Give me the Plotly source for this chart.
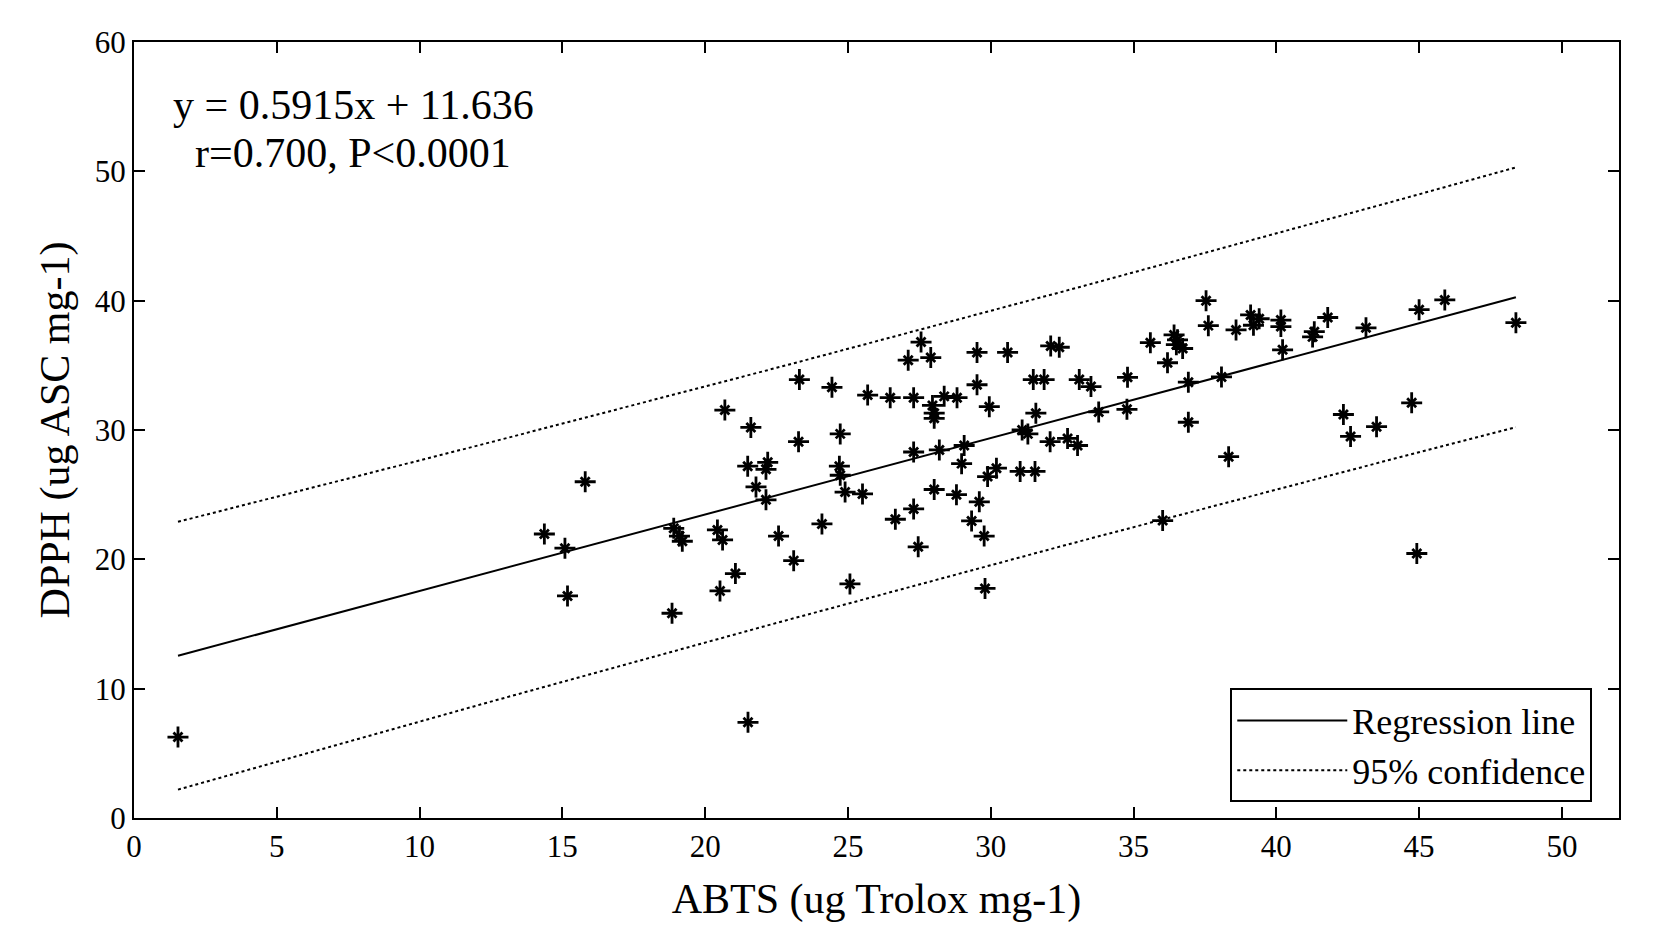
import numpy as np
import plotly.graph_objects as go

# ABTS (x) and DPPH (y) values
abts = [1.54, 14.37, 15.09, 15.18, 15.8, 18.84, 18.9, 19.1, 19.2, 20.43, 20.61, 20.52, 20.69, 21.06,
        21.5, 21.49, 21.6, 21.78, 22.13, 22.19, 22.13, 22.57, 23.1, 23.27, 23.3, 24.09, 24.44, 24.73,
        24.7, 24.73, 24.9, 25.07, 25.51, 25.69, 26.48, 26.66, 27.11, 27.3, 27.3, 27.3, 27.46, 27.56,
        27.9, 27.96, 28.02, 28.02, 28.02, 28.2, 28.37, 28.8, 28.82, 28.98, 29.07, 29.33, 29.52, 29.52,
        29.6, 29.77, 29.8, 29.89, 29.95, 30.2, 30.59, 31.03, 31.1, 31.3, 31.49, 31.55, 31.58, 31.87,
        32.08, 32.1, 32.4, 32.69, 33.04, 33.1, 33.51, 33.78, 34.77, 34.79, 35.59, 36.02, 36.19, 36.42,
        36.54, 36.5, 36.72, 36.92, 36.92, 37.54, 37.62, 38.08, 38.33, 38.59, 39.1, 39.2, 39.4, 40.16,
        40.16, 40.22, 41.27, 41.33, 41.8, 42.35, 42.6, 43.14, 43.51, 44.74, 44.92, 45.0, 45.9, 48.39]
dpph = [6.26, 21.96, 20.86, 17.17, 26.0, 15.83, 22.4, 21.8, 21.4, 22.27, 21.5, 17.56, 31.54, 18.9,
        7.4, 27.2, 30.2, 25.6, 26.96, 27.5, 24.6, 21.8, 19.9, 29.1, 33.9, 22.74, 33.3, 29.7,
        27.2, 26.5, 25.2, 18.1, 25.06, 32.7, 32.5, 23.1, 35.4, 32.5, 28.3, 23.9, 20.97, 36.8,
        35.6, 31.9, 31.3, 30.9, 25.4, 28.46, 32.6, 25.0, 32.5, 27.4, 28.8, 22.97, 36.0, 33.5,
        24.45, 21.8, 17.75, 26.4, 31.8, 27.05, 36.0, 26.8, 30.0, 29.7, 33.9, 26.8, 31.3, 33.9,
        29.1, 36.5, 36.4, 29.35, 28.8, 33.9, 33.36, 31.4, 31.6, 34.07, 36.75, 23.0, 35.2, 37.35,
        36.97, 36.6, 36.3, 33.7, 30.6, 40.0, 38.07, 34.1, 27.94, 37.74, 38.9, 38.1, 38.6, 38.5,
        38.0, 36.2, 37.2, 37.6, 38.7, 31.2, 29.5, 37.9, 30.26, 32.1, 20.45, 39.3, 40.06, 38.3]

slope = 0.5915
intercept = 11.636

x = np.array(abts)
y = np.array(dpph)
n = len(x)
xs = np.linspace(x.min(), x.max(), 60)
fit = slope * xs + intercept
resid = y - (slope * x + intercept)
s = np.sqrt(np.sum(resid ** 2) / (n - 2))
xm = x.mean()
sxx = np.sum((x - xm) ** 2)
half = 1.98 * s * np.sqrt(1 + 1 / n + (xs - xm) ** 2 / sxx)
upper = fit + half
lower = fit - half

FONT = "Liberation Serif"
fig = go.Figure()

fig.add_trace(go.Scatter(
    x=x, y=y, mode="markers", showlegend=False, hoverinfo="skip",
    marker=dict(symbol="cross-thin-open", size=15, color="black",
                line=dict(color="black", width=2.8))))
fig.add_trace(go.Scatter(
    x=x, y=y, mode="markers", showlegend=False,
    marker=dict(symbol="x-thin-open", size=9, color="black",
                line=dict(color="black", width=2.8))))

fig.add_trace(go.Scatter(
    x=xs, y=fit, mode="lines", name="Regression line",
    line=dict(color="black", width=2)))
fig.add_trace(go.Scatter(
    x=list(xs) + [None] + list(xs), y=list(upper) + [None] + list(lower),
    mode="lines", name="95% confidence",
    line=dict(color="black", width=2, dash="dot")))

fig.add_annotation(x=1.3, y=55.1, xref="x", yref="y", xanchor="left", yanchor="middle",
                   text="y = 0.5915x + 11.636", showarrow=False,
                   font=dict(family=FONT, size=42, color="black"))
fig.add_annotation(x=2.05, y=51.4, xref="x", yref="y", xanchor="left", yanchor="middle",
                   text="r=0.700, P<0.0001", showarrow=False,
                   font=dict(family=FONT, size=42, color="black"))

axis_common = dict(showgrid=False, zeroline=False, showline=True, linecolor="black",
                   linewidth=2, mirror="ticks", ticks="inside", ticklen=11, tickwidth=2,
                   tickcolor="black", tickfont=dict(family=FONT, size=31, color="black"))

fig.update_xaxes(range=[0, 52], tickvals=[0, 5, 10, 15, 20, 25, 30, 35, 40, 45, 50],
                 title=dict(text="ABTS (ug Trolox mg-1)", standoff=20,
                            font=dict(family=FONT, size=42, color="black")),
                 **axis_common)
fig.update_yaxes(range=[0, 60], tickvals=[0, 10, 20, 30, 40, 50, 60],
                 title=dict(text="DPPH (ug ASC mg-1)", standoff=12,
                            font=dict(family=FONT, size=42, color="black")),
                 **axis_common)

fig.update_layout(
    width=1654, height=951,
    margin=dict(l=134, r=35, t=42, b=133),
    plot_bgcolor="white", paper_bgcolor="white",
    font=dict(family=FONT, color="black"),
    legend=dict(x=0.982, y=0.02, xanchor="right", yanchor="bottom",
                bgcolor="white", bordercolor="black", borderwidth=2,
                font=dict(family=FONT, size=36, color="black"),
                tracegroupgap=0, itemwidth=110),
)

fig.write_html("out.html")
